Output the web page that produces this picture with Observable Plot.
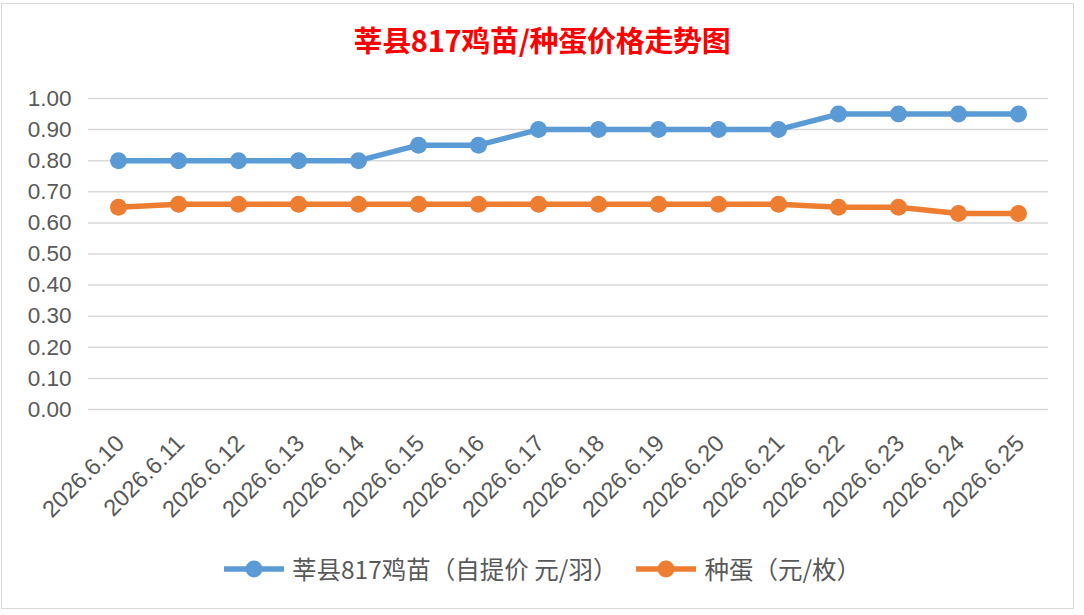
<!DOCTYPE html>
<html><head><meta charset="utf-8">
<script src="https://cdn.jsdelivr.net/npm/d3@7"></script>
<script src="https://cdn.jsdelivr.net/npm/@observablehq/plot@0.6"></script>
<style>
html,body{margin:0;padding:0;background:#fff;}
#wrap{position:relative;width:1084px;height:615px;overflow:hidden;font-family:"Noto Sans CJK SC","Noto Sans",sans-serif;}
#frame{position:absolute;left:1px;top:3px;width:1073px;height:606px;border:1.5px solid #d9d9d9;box-sizing:border-box;}
#title{position:absolute;left:0;top:18px;width:1084px;text-align:center;color:#ff0000;font-weight:bold;font-size:29px;line-height:42px;letter-spacing:-0.3px;}
#legend{position:absolute;left:0;top:551px;width:1084px;height:35px;display:flex;justify-content:center;align-items:center;color:#595959;font-size:24.5px;line-height:35px;}
.item{display:flex;align-items:center;margin:0 9px;}
#chart{position:absolute;left:0;top:0;}
</style></head>
<body><div id="wrap"><div id="frame"></div><div id="chart"></div><div id="title">莘县817鸡苗/种蛋价格走势图</div><div id="legend"></div></div>
<script>
const dates = ["2026.6.10","2026.6.11","2026.6.12","2026.6.13","2026.6.14","2026.6.15","2026.6.16","2026.6.17","2026.6.18","2026.6.19","2026.6.20","2026.6.21","2026.6.22","2026.6.23","2026.6.24","2026.6.25"];
const chickPrice = [0.80,0.80,0.80,0.80,0.80,0.85,0.85,0.90,0.90,0.90,0.90,0.90,0.95,0.95,0.95,0.95];
const eggPrice = [0.65,0.66,0.66,0.66,0.66,0.66,0.66,0.66,0.66,0.66,0.66,0.66,0.65,0.65,0.63,0.63];
const seriesNames = ["莘县817鸡苗（自提价 元/羽）","种蛋（元/枚）"];
const colors = ["#5b9bd5","#ed7d31"];
const yTicks = [0,0.1,0.2,0.3,0.4,0.5,0.6,0.7,0.8,0.9,1.0];

const data = [];
dates.forEach((d,i)=>{
  data.push({date:d, value:chickPrice[i], series:seriesNames[0]});
  data.push({date:d, value:eggPrice[i], series:seriesNames[1]});
});

const chart = Plot.plot({
  width:1084, height:615,
  marginLeft:88, marginRight:36, marginTop:98, marginBottom:206,
  style:{fontFamily:"'Liberation Sans', 'Noto Sans', sans-serif", fontSize:"22px", color:"#595959", background:"transparent"},
  x:{type:"point", domain:dates, padding:0.5, label:null},
  y:{domain:[0,1], label:null},
  color:{domain:seriesNames, range:colors},
  marks:[
    Plot.ruleY(yTicks,{stroke:"#d9d9d9", strokeWidth:1.5}),
    Plot.axisY({ticks:yTicks, tickFormat:d3.format(".2f"), tickSize:0, tickPadding:17, fontSize:22.5, fill:"#595959"}),
    Plot.axisX({tickSize:0, tickRotate:-45, tickPadding:30, dx:2, fontSize:23.5, fill:"#595959"}),
    Plot.line(data,{x:"date", y:"value", z:"series", stroke:"series", strokeWidth:5.5}),
    Plot.dot(data,{x:"date", y:"value", fill:"series", r:8.5})
  ]
});
document.getElementById("chart").appendChild(chart);

const legend = d3.select("#legend");
seriesNames.forEach((n,i)=>{
  const it = legend.append("div").attr("class","item");
  const s = it.append("svg").attr("width",62).attr("height",20).style("margin-right",7);
  s.append("line").attr("x1",1).attr("x2",61).attr("y1",10).attr("y2",10).attr("stroke",colors[i]).attr("stroke-width",5.5);
  s.append("circle").attr("cx",31).attr("cy",10).attr("r",8.5).attr("fill",colors[i]);
  it.append("span").text(n);
});
</script></body></html>
